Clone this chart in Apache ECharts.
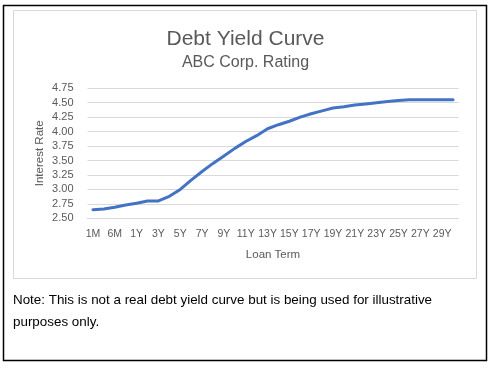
<!DOCTYPE html>
<html>
<head>
<meta charset="utf-8">
<script src="https://cdn.jsdelivr.net/npm/echarts@6/dist/echarts.min.js"></script>
<style>
html,body{margin:0;padding:0;background:#fff;}
#c{width:491px;height:370px;}
</style>
</head>
<body>
<div id="c"></div>
<script>
var categories = ['1M','3M','6M','9M','1Y','2Y','3Y','4Y','5Y','6Y','7Y','8Y','9Y','10Y','11Y','12Y','13Y','14Y','15Y','16Y','17Y','18Y','19Y','20Y','21Y','22Y','23Y','24Y','25Y','26Y','27Y','28Y','29Y','30Y'];
var rates = [2.65,2.66,2.69,2.73,2.76,2.80,2.80,2.88,3.00,3.16,3.31,3.45,3.58,3.71,3.83,3.93,4.05,4.12,4.18,4.25,4.31,4.36,4.41,4.43,4.46,4.48,4.50,4.52,4.54,4.55,4.55,4.55,4.55,4.55];
var yTicks = {min: 2.5, max: 4.75, step: 0.25};
var titleText = 'Debt Yield Curve';
var subtitleText = 'ABC Corp. Rating';
var noteLines = ['Note: This is not a real debt yield curve but is being used for illustrative', 'purposes only.'];

var FONT = '"Liberation Sans", Arial, sans-serif';
var GREY = '#595959';
var chart = echarts.init(document.getElementById('c'), null, {renderer: 'canvas'});
chart.setOption({
  animation: false,
  textStyle: {fontFamily: FONT},
  title: [
    {text: titleText, left: 'center', top: 24, textStyle: {fontSize: 21, fontWeight: 'normal', color: GREY, fontFamily: FONT}},
    {text: subtitleText, left: 'center', top: 50, textStyle: {fontSize: 16, fontWeight: 'normal', color: GREY, fontFamily: FONT}}
  ],
  graphic: [
    {type: 'rect', shape: {x: 3.5, y: 5.5, width: 483, height: 355}, style: {fill: null, stroke: '#000', lineWidth: 1.5}, silent: true, z: 0},
    {type: 'rect', shape: {x: 13.5, y: 10.5, width: 463, height: 268}, style: {fill: null, stroke: '#d9d9d9', lineWidth: 1}, silent: true, z: 0},
    {type: 'text', left: 13, top: 294, style: {text: noteLines[0], font: '13.4px ' + FONT, fill: '#000'}},
    {type: 'text', left: 13, top: 316, style: {text: noteLines[1], font: '13.4px ' + FONT, fill: '#000'}}
  ],
  grid: {left: 87.5, right: 32.5, top: 88.3, bottom: 151.7, containLabel: false},
  xAxis: {
    type: 'category',
    data: categories,
    boundaryGap: true,
    name: 'Loan Term',
    nameLocation: 'middle',
    nameGap: 31,
    nameMoveOverlap: false,
    nameTextStyle: {color: GREY, fontSize: 11.5, fontFamily: FONT},
    axisLine: {show: true, lineStyle: {color: '#d9d9d9'}},
    axisTick: {show: false},
    axisLabel: {interval: 1, color: GREY, fontSize: 10.5, margin: 10, fontFamily: FONT}
  },
  yAxis: {
    type: 'value',
    min: yTicks.min,
    max: yTicks.max,
    interval: yTicks.step,
    name: 'Interest Rate',
    nameLocation: 'middle',
    nameGap: 42,
    nameMoveOverlap: false,
    nameTextStyle: {color: GREY, fontSize: 11.5, fontFamily: FONT},
    axisLine: {show: false},
    axisTick: {show: false},
    axisLabel: {color: GREY, fontSize: 11, margin: 14, fontFamily: FONT, formatter: function(v){return v.toFixed(2);}},
    splitLine: {lineStyle: {color: '#d9d9d9'}}
  },
  series: [{
    type: 'line',
    data: rates,
    showSymbol: false,
    symbol: 'none',
    lineStyle: {color: '#4472C4', width: 3, cap: 'round', join: 'round'},
    smooth: false
  }]
});
</script>
</body>
</html>
